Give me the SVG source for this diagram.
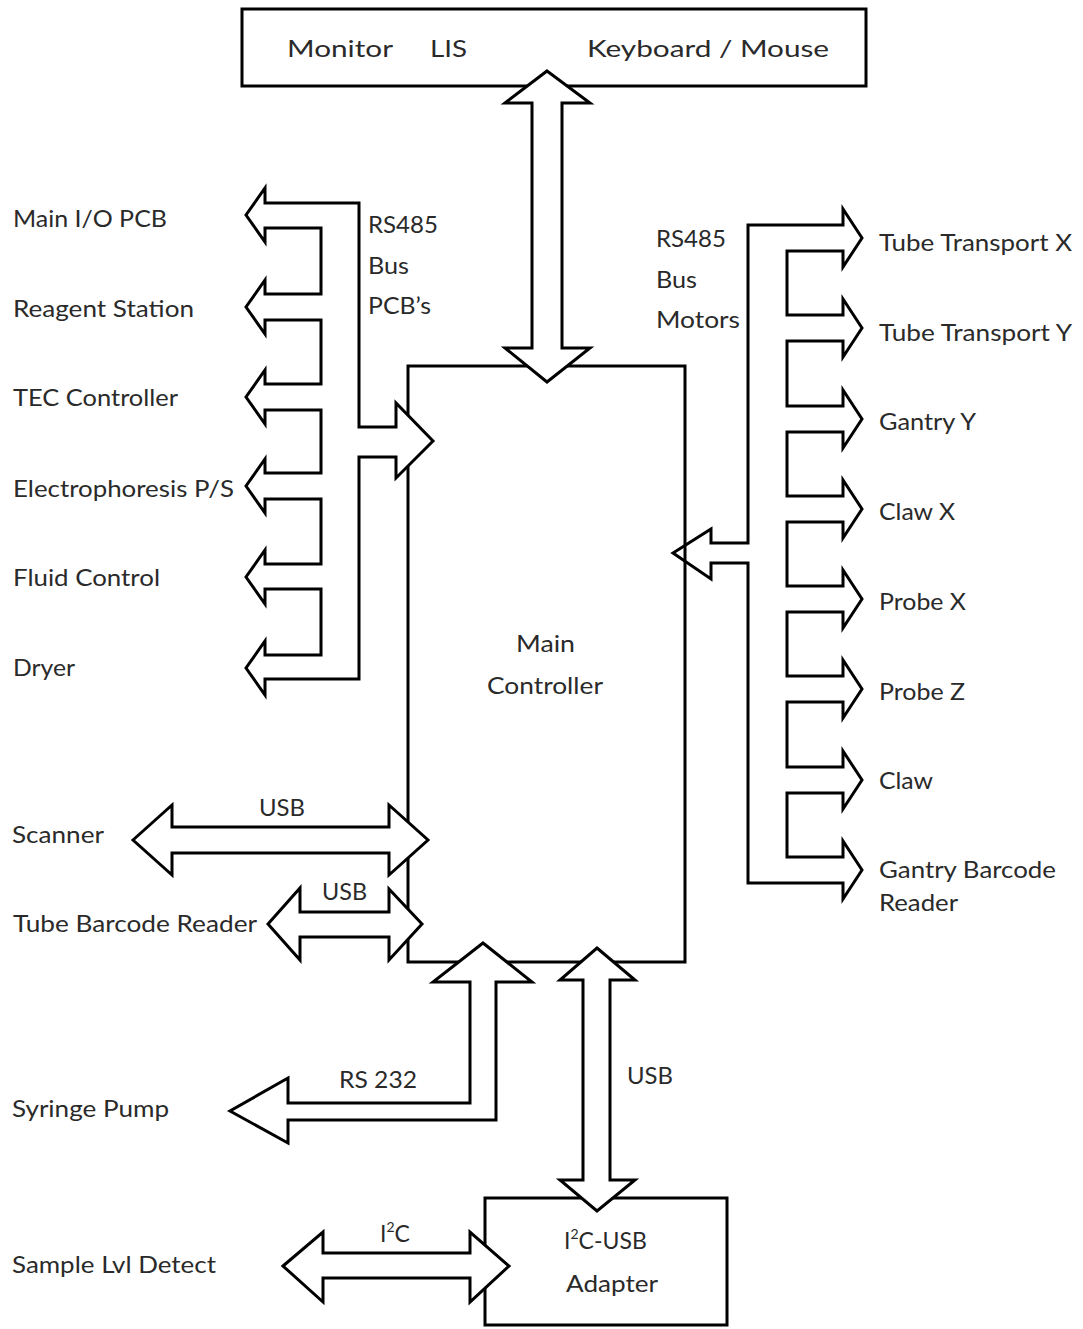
<svg xmlns="http://www.w3.org/2000/svg" width="1083" height="1329" viewBox="0 0 1083 1329">
<style>
.box{fill:#fff;stroke:#000;stroke-width:3}
.arr{fill:#fff;stroke:#000;stroke-width:3;stroke-linejoin:miter}
.arrn{fill:none;stroke:#000;stroke-width:3;stroke-linejoin:miter}
text{font-family:Lato,"Open Sans","Liberation Sans",sans-serif;font-size:23px;fill:#2a2a2a}
.sup{font-size:14px}
</style>
<rect width="1083" height="1329" fill="#fff"/>
<g id="top-box">
<rect class="box" x="242" y="9" width="624" height="77"/>
<text x="287" y="57" textLength="106" lengthAdjust="spacingAndGlyphs">Monitor</text>
<text x="430" y="57" textLength="37" lengthAdjust="spacingAndGlyphs">LIS</text>
<text x="587" y="57" textLength="242" lengthAdjust="spacingAndGlyphs">Keyboard / Mouse</text>
</g>
<g id="main-controller">
<rect class="box" x="408" y="366" width="277" height="596"/>
<text x="516" y="652" textLength="59" lengthAdjust="spacingAndGlyphs">Main</text>
<text x="487" y="694" textLength="116" lengthAdjust="spacingAndGlyphs">Controller</text>
</g>
<g id="adapter">
<rect class="box" x="485" y="1198" width="242" height="127"/>
<text x="564" y="1249">I<tspan class="sup" dy="-10">2</tspan><tspan dy="10">C-USB</tspan></text>
<text x="566" y="1292" textLength="92" lengthAdjust="spacingAndGlyphs">Adapter</text>
</g>
<g id="connectors">
<path class="arr" d="M547,71 L590,103 L562,103 L562,348 L590,348 L547,382 L505,348 L532,348 L532,103 L505,103 Z"/>
<path class="arr" d="M359,203 L265,203 L265,188 L246,215 L265,242 L265,228 L321,228 L321,294 L265,294 L265,280 L246,307 L265,334 L265,320 L321,320 L321,384 L265,384 L265,370 L246,397 L265,424 L265,410 L321,410 L321,473 L265,473 L265,459 L246,486 L265,513 L265,499 L321,499 L321,564 L265,564 L265,550 L246,577 L265,604 L265,589 L321,589 L321,655 L265,655 L265,641 L246,668 L265,695 L265,679 L359,679 L359,457 L396,457 L396,478 L433,441 L396,403 L396,427 L359,427 Z"/>
<path class="arrn" d="M748,225 L843,225 L843,209 L862,238 L843,267 L843,251 L787,251 L787,315 L843,315 L843,299 L862,328 L843,357 L843,341 L787,341 L787,406 L843,406 L843,390 L862,419 L843,448 L843,432 L787,432 L787,496 L843,496 L843,480 L862,509 L843,538 L843,522 L787,522 L787,586 L843,586 L843,570 L862,599 L843,628 L843,612 L787,612 L787,676 L843,676 L843,660 L862,689 L843,718 L843,702 L787,702 L787,767 L843,767 L843,751 L862,780 L843,809 L843,793 L787,793 L787,857 L843,857 L843,841 L862,870 L843,899 L843,883 L748,883 L748,563 L711,563 L711,579 L673,553 L711,529 L711,543 L748,543 Z"/>
<path class="arr" d="M133,840 L172,805 L172,827 L389,827 L389,805 L428,840 L389,875 L389,853 L172,853 L172,875 Z"/>
<path class="arr" d="M268,924 L300,888 L300,912 L389,912 L389,889 L422,924 L389,960 L389,937 L300,937 L300,960 Z"/>
<path class="arr" d="M483,943 L532,982 L496,982 L496,1120 L288,1120 L288,1143 L230,1111 L288,1078 L288,1103 L470,1103 L470,982 L433,982 Z"/>
<path class="arr" d="M597,948 L635,980 L610,980 L610,1180 L635,1180 L597,1211 L560,1180 L583,1180 L583,980 L560,980 Z"/>
<path class="arr" d="M283,1266 L323,1232 L323,1253 L470,1253 L470,1232 L509,1266 L470,1302 L470,1278 L323,1278 L323,1302 Z"/>
<text x="368" y="233" textLength="70" lengthAdjust="spacingAndGlyphs">RS485</text>
<text x="368" y="274" textLength="41" lengthAdjust="spacingAndGlyphs">Bus</text>
<text x="368" y="314" textLength="63" lengthAdjust="spacingAndGlyphs">PCB’s</text>
<text x="656" y="247" textLength="70" lengthAdjust="spacingAndGlyphs">RS485</text>
<text x="656" y="288" textLength="41" lengthAdjust="spacingAndGlyphs">Bus</text>
<text x="656" y="328" textLength="84" lengthAdjust="spacingAndGlyphs">Motors</text>
<text x="259" y="816" textLength="46" lengthAdjust="spacingAndGlyphs">USB</text>
<text x="322" y="900" textLength="45" lengthAdjust="spacingAndGlyphs">USB</text>
<text x="339" y="1088" textLength="78" lengthAdjust="spacingAndGlyphs">RS 232</text>
<text x="627" y="1084" textLength="46" lengthAdjust="spacingAndGlyphs">USB</text>
<text x="380" y="1242">I<tspan class="sup" dy="-10">2</tspan><tspan dy="10">C</tspan></text>
</g>
<g id="main-io"><text x="13" y="227" textLength="154" lengthAdjust="spacingAndGlyphs">Main I/O PCB</text></g>
<g id="reagent"><text x="13" y="317" textLength="181" lengthAdjust="spacingAndGlyphs">Reagent Station</text></g>
<g id="tec"><text x="13" y="406" textLength="165" lengthAdjust="spacingAndGlyphs">TEC Controller</text></g>
<g id="electro"><text x="13" y="497" textLength="221" lengthAdjust="spacingAndGlyphs">Electrophoresis P/S</text></g>
<g id="fluid"><text x="13" y="586" textLength="147" lengthAdjust="spacingAndGlyphs">Fluid Control</text></g>
<g id="dryer"><text x="13" y="676" textLength="62" lengthAdjust="spacingAndGlyphs">Dryer</text></g>
<g id="scanner"><text x="12" y="843" textLength="92" lengthAdjust="spacingAndGlyphs">Scanner</text></g>
<g id="tube-barcode"><text x="13" y="932" textLength="244" lengthAdjust="spacingAndGlyphs">Tube Barcode Reader</text></g>
<g id="syringe"><text x="12" y="1117" textLength="157" lengthAdjust="spacingAndGlyphs">Syringe Pump</text></g>
<g id="sample-lvl"><text x="12" y="1273" textLength="204" lengthAdjust="spacingAndGlyphs">Sample Lvl Detect</text></g>
<g id="tube-x"><text x="879" y="251" textLength="193" lengthAdjust="spacingAndGlyphs">Tube Transport X</text></g>
<g id="tube-y"><text x="879" y="341" textLength="193" lengthAdjust="spacingAndGlyphs">Tube Transport Y</text></g>
<g id="gantry-y"><text x="879" y="430" textLength="97" lengthAdjust="spacingAndGlyphs">Gantry Y</text></g>
<g id="claw-x"><text x="879" y="520" textLength="76" lengthAdjust="spacingAndGlyphs">Claw X</text></g>
<g id="probe-x"><text x="879" y="610" textLength="87" lengthAdjust="spacingAndGlyphs">Probe X</text></g>
<g id="probe-z"><text x="879" y="700" textLength="86" lengthAdjust="spacingAndGlyphs">Probe Z</text></g>
<g id="claw"><text x="879" y="789" textLength="54" lengthAdjust="spacingAndGlyphs">Claw</text></g>
<g id="gantry-barcode"><text x="879" y="878" textLength="177" lengthAdjust="spacingAndGlyphs">Gantry Barcode</text><text x="879" y="911" textLength="79" lengthAdjust="spacingAndGlyphs">Reader</text></g>
</svg>
